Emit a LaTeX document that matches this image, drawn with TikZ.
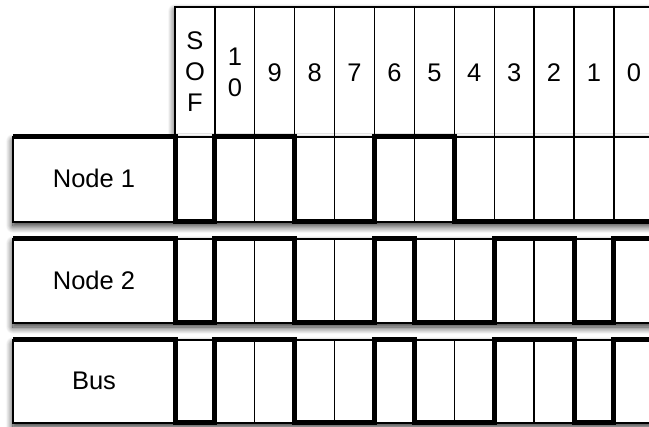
\documentclass[tikz,border=0pt]{standalone}
\usepackage{fontspec}
\setmainfont{Liberation Sans}
\usetikzlibrary{shadows.blur}
\tikzset{
  thinline/.style={line width=1.3pt, black},
  wave/.style={line width=5pt, black, line join=miter},
  boxshadow/.style={blur shadow={shadow xshift=0pt, shadow yshift=-4pt, shadow blur radius=7pt, shadow opacity=85, shadow blur steps=12}},
  lbl/.style={font=\fontsize{25.5}{31}\selectfont, inner sep=0pt, align=center},
}
\begin{document}
\begin{tikzpicture}[x=1pt,y=-1pt]
\useasboundingbox (0,0) rectangle (649,427);
\clip (0,0) rectangle (649,427);
\def\cw{39.9}
% boundaries
\foreach \i in {0,...,12} {\pgfmathsetmacro\xx{175+\i*\cw}\expandafter\xdef\csname b\i\endcsname{\xx}}
% header
\path[fill=white, boxshadow] (175,7) rectangle (670,137);
\draw[thinline] (175,7) rectangle (670,137);
\foreach \i in {1,...,11} {\draw[thinline] (175+\i*\cw,7) -- (175+\i*\cw,137);}
\node[lbl] (hsof) at (175+0.5*\cw,72) {S\\O\\F};
\node[lbl] (h10) at (175+1.5*\cw,72) {1\\0};
\foreach \t [count=\k from 2] in {9,8,7,6,5,4,3,2,1,0}
  {\node[lbl] (h\t) at (175+\k*\cw+0.5*\cw,73) {\t};}
% rows
\foreach \top/\bot/\name/\txt in {137/222/n1/Node 1, 239/323/n2/Node 2, 340/423/bus/Bus} {
  \path[fill=white, boxshadow] (13,\top) rectangle (670,\bot);
  \draw[thinline] (13,\top) rectangle (670,\bot);
  \foreach \i in {0,...,11} {\draw[thinline] (175+\i*\cw,\top) -- (175+\i*\cw,\bot);}
  \node[lbl] (\name) at (94,{(\top+\bot)/2-1}) {\txt};
}
% Node 1 waveform
\draw[wave] (13,137) -- (\csname b0\endcsname,137) -- (\csname b0\endcsname,222)
  -- (\csname b1\endcsname,222) -- (\csname b1\endcsname,137)
  -- (\csname b3\endcsname,137) -- (\csname b3\endcsname,222)
  -- (\csname b5\endcsname,222) -- (\csname b5\endcsname,137)
  -- (\csname b7\endcsname,137) -- (\csname b7\endcsname,222) -- (670,222);
% Node 2 and Bus waveforms
\foreach \top/\bot in {239/323, 340/423} {
\draw[wave] (13,\top) -- (\csname b0\endcsname,\top) -- (\csname b0\endcsname,\bot)
  -- (\csname b1\endcsname,\bot) -- (\csname b1\endcsname,\top)
  -- (\csname b3\endcsname,\top) -- (\csname b3\endcsname,\bot)
  -- (\csname b5\endcsname,\bot) -- (\csname b5\endcsname,\top)
  -- (\csname b6\endcsname,\top) -- (\csname b6\endcsname,\bot)
  -- (\csname b8\endcsname,\bot) -- (\csname b8\endcsname,\top)
  -- (\csname b10\endcsname,\top) -- (\csname b10\endcsname,\bot)
  -- (\csname b11\endcsname,\bot) -- (\csname b11\endcsname,\top) -- (670,\top);
}
\end{tikzpicture}
\end{document}
